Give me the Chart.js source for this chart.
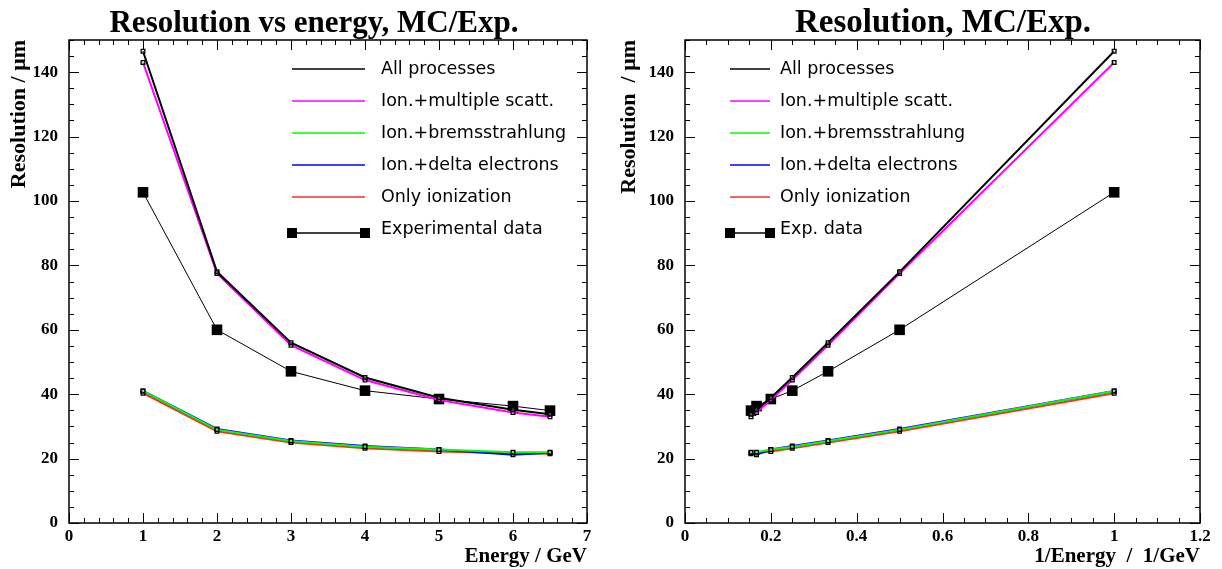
<!DOCTYPE html>
<html>
<head>
<meta charset="utf-8">
<script src="https://cdn.jsdelivr.net/npm/chart.js@4.4.0/dist/chart.umd.min.js"></script>
<style>
  html, body { margin: 0; padding: 0; background: #fff; }
  #wrap { position: relative; width: 1222px; height: 569px; }
  .panel { position: absolute; top: 0; width: 611px; height: 569px; }
</style>
</head>
<body>
<div id="wrap">
  <div class="panel" style="left:0"><canvas id="left" width="611" height="569"></canvas></div>
  <div class="panel" style="left:611px"><canvas id="right" width="611" height="569"></canvas></div>
</div>
<script>
// values (resolution in um)
const energy = [1, 2, 3, 4, 5, 6, 6.5];
const invEnergy = energy.map(e => 1 / e);
const allProcesses = [146.5, 78, 56, 45.2, 38.9, 35.2, 33.8];
const ionMultScatt = [143, 77.5, 55.2, 44.4, 38.2, 34.3, 33];
const ionBrems = [41, 29, 25.5, 23.7, 22.8, 22, 22];
const ionDelta = [41, 29.2, 25.6, 23.9, 22.8, 21.2, 21.8];
const onlyIon = [40.3, 28.5, 25, 23.2, 22.2, 21.7, 21.5];
const expData = [102.7, 60, 47.1, 41.1, 38.5, 36.3, 34.9];

const yTicks = [0, 20, 40, 60, 80, 100, 120, 140];
const energyTicks = [0, 1, 2, 3, 4, 5, 6, 7];
const invTicks = [0, 0.2, 0.4, 0.6, 0.8, 1, 1.2];

const serif = '"Liberation Serif", "Times New Roman", serif';

// ROOT style frame: box + inward ticks on all four sides
const rootFrame = {
  id: 'rootFrame',
  afterDraw(chart, args, opts) {
    const { ctx, chartArea: a, scales: { x, y } } = chart;
    ctx.save();
    ctx.strokeStyle = '#000';
    ctx.lineWidth = 1.5;
    ctx.strokeRect(a.left, a.top, a.right - a.left, a.bottom - a.top);
    ctx.lineWidth = 1;
    ctx.beginPath();
    const isMajor = (v, step) => Math.abs(v / step - Math.round(v / step)) < 1e-6;
    for (let v = x.min; v <= x.max + 1e-9; v += opts.xMinor) {
      const px = Math.round(x.getPixelForValue(v)) + 0.5;
      const len = isMajor(v, opts.xMajor) ? 10 : 5;
      ctx.moveTo(px, a.bottom); ctx.lineTo(px, a.bottom - len);
      ctx.moveTo(px, a.top); ctx.lineTo(px, a.top + len);
    }
    for (let v = y.min; v <= y.max + 1e-9; v += opts.yMinor) {
      const py = Math.round(y.getPixelForValue(v)) + 0.5;
      const len = isMajor(v, opts.yMajor) ? 10 : 5;
      ctx.moveTo(a.left, py); ctx.lineTo(a.left + len, py);
      ctx.moveTo(a.right, py); ctx.lineTo(a.right - len, py);
    }
    ctx.stroke();
    ctx.restore();
  }
};

const rootTitle = {
  id: 'rootTitle',
  afterDraw(chart, args, opts) {
    const ctx = chart.ctx;
    ctx.save();
    ctx.font = 'bold ' + opts.size + 'px ' + serif;
    ctx.fillStyle = '#000';
    ctx.textAlign = 'center';
    ctx.textBaseline = 'alphabetic';
    ctx.fillText(opts.text, opts.x, 32);
    ctx.restore();
  }
};

const rootLegend = {
  id: 'rootLegend',
  afterDraw(chart, args, opts) {
    const { ctx, chartArea: a } = chart;
    ctx.save();
    ctx.font = '17.5px "DejaVu Sans", sans-serif';
    ctx.textBaseline = 'middle';
    chart.data.datasets.forEach((ds, i) => {
      const ty = a.top + 29 + i * 32;
      const x0 = a.left + opts.lineStart, x1 = a.left + opts.lineEnd;
      ctx.fillStyle = '#000';
      ctx.fillText(ds.label, a.left + opts.textX, ty);
      ctx.strokeStyle = ds.borderColor;
      ctx.lineWidth = 1.5;
      ctx.beginPath();
      if (ds.isExp) {
        const ly = ty + 4;
        ctx.moveTo(x0, ly); ctx.lineTo(x1, ly); ctx.stroke();
        ctx.fillRect(x0 - 5, ly - 5, 10, 10);
        ctx.fillRect(x1 - 5, ly - 5, 10, 10);
      } else {
        ctx.moveTo(x0, ty); ctx.lineTo(x1, ty); ctx.stroke();
      }
    });
    ctx.restore();
  }
};

function series(label, xs, ys, color, width, exp) {
  return {
    label,
    data: xs.map((v, i) => ({ x: v, y: ys[i] })),
    borderColor: color,
    borderWidth: width,
    showLine: true,
    pointStyle: 'rect',
    pointRadius: exp ? 7.5 : 2.6,
    pointBorderWidth: exp ? 0 : 1.3,
    pointBorderColor: '#000',
    pointBackgroundColor: exp ? '#000' : 'rgba(255,255,255,0.3)',
    isExp: !!exp
  };
}

function makeChart(id, xs, cfg) {
  const tickFont = { family: serif, weight: 'bold', size: 17 };
  const titleFont = { family: serif, weight: 'bold', size: 21 };
  const yTitleFont = { family: serif, weight: 'bold', size: 22 };
  return new Chart(document.getElementById(id), {
    type: 'scatter',
    data: {
      datasets: [
        series('All processes', xs, allProcesses, '#000000', 2),
        series('Ion.+multiple scatt.', xs, ionMultScatt, '#ff00ff', 2),
        series('Ion.+bremsstrahlung', xs, ionBrems, '#00ff00', 2),
        series('Ion.+delta electrons', xs, ionDelta, '#0000ff', 2),
        series('Only ionization', xs, onlyIon, '#ff2a2a', 2),
        series(cfg.expLabel, xs, expData, '#000000', 1, true)
      ]
    },
    options: {
      responsive: false,
      animation: false,
      layout: { padding: { top: 40, right: cfg.padRight, left: 0, bottom: 0 } },
      plugins: {
        legend: { display: false },
        title: { display: false },
        tooltip: { enabled: false },
        rootFrame: { xMajor: cfg.xMajor, xMinor: cfg.xMinor, yMajor: 20, yMinor: 5 },
        rootTitle: { text: cfg.title, x: cfg.titleX, size: cfg.titleSize },
        rootLegend: cfg.legend
      },
      scales: {
        x: {
          type: 'linear', min: cfg.xMin, max: cfg.xMax,
          afterFit: s => { s.height = 46; },
          afterBuildTicks: s => { s.ticks = cfg.xTicks.map(v => ({ value: v })); },
          grid: { display: false, drawTicks: false },
          border: { display: false },
          ticks: { color: '#000', font: tickFont, padding: 3, maxRotation: 0,
                   callback: v => String(Math.round(v * 100) / 100) },
          title: { display: true, text: cfg.xTitle, align: 'end', color: '#000', font: titleFont, padding: { top: 0, bottom: 0 } }
        },
        y: {
          type: 'linear', min: 0, max: 150,
          afterFit: s => { s.width = cfg.yWidth; },
          afterBuildTicks: s => { s.ticks = yTicks.map(v => ({ value: v })); },
          grid: { display: false, drawTicks: false },
          border: { display: false },
          ticks: { color: '#000', font: tickFont, padding: 11 },
          title: { display: true, text: cfg.yTitle, align: 'end', color: '#000', font: yTitleFont, padding: { top: cfg.yTitlePad, bottom: 0 } }
        }
      }
    },
    plugins: [rootFrame, rootTitle, rootLegend]
  });
}

makeChart('left', energy, {
  title: 'Resolution vs energy, MC/Exp.', titleX: 314, titleSize: 31,
  xTitle: 'Energy / GeV', yTitle: 'Resolution / \u03bcm',
  xMin: 0, xMax: 7, xTicks: energyTicks, xMajor: 1, xMinor: 0.2,
  padRight: 24, yWidth: 69, yTitlePad: 6,
  expLabel: 'Experimental data',
  legend: { lineStart: 223, lineEnd: 296, textX: 312 }
});

makeChart('right', invEnergy, {
  title: 'Resolution, MC/Exp.', titleX: 332, titleSize: 33,
  xTitle: '1/Energy  /  1/GeV', yTitle: 'Resolution  / \u03bcm',
  xMin: 0, xMax: 1.2, xTicks: invTicks, xMajor: 0.2, xMinor: 0.05,
  padRight: 22, yWidth: 74, yTitlePad: 5,
  expLabel: 'Exp. data',
  legend: { lineStart: 45, lineEnd: 85, textX: 95 }
});
</script>
</body>
</html>
